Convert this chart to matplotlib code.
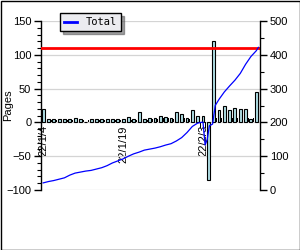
import matplotlib
matplotlib.use("Agg")
import matplotlib.pyplot as plt
from matplotlib.patches import Rectangle
from matplotlib.ticker import MultipleLocator

plt.rcParams["font.family"] = ["Liberation Sans", "DejaVu Sans"]

# ---- data ----
days = list(range(41))
pages_a = [20, 5, 5, 5, 5, 5, 6, 5, 0, 5, 5, 5, 5, 5, 5, 5, 8, 5, 15, 5,
           7, 6, 9, 8, 7, 15, 12, 7, 18, 9, 9, -85, 120, 18, 24, 19, 21, 20, 20, 5, 45]
pages_b = [18, 4, 4, 4, 4, 4, 4, 4, 4, 4, 4, 4, 4, 4, 4, 4, 4, 4, 4, 4,
           5, 5, 6, 6, 5, 8, 6, 5, 8, -9, -9, 0, 6, 6, 6, 6, 6, 6, 6, 6, 0]
total_x = [0, 1, 2, 3, 4, 5, 6, 7, 8, 9, 10, 11, 12, 13, 14, 15, 16, 17, 18, 19,
           20, 21, 22, 23, 24, 25, 26, 27, 28, 29, 30, 30.4, 30.8, 31.2, 31.8,
           32.3, 33, 34, 35, 36, 37, 38, 39, 40, 40.4]
total_y = [21, 25, 28, 32, 36, 44, 50, 53, 56, 58, 62, 66, 72, 80, 86, 92, 100,
           107, 112, 118, 121, 124, 128, 133, 137, 145, 155, 170, 188, 198, 201,
           133, 150, 190, 195, 250, 268, 290, 308, 325, 345, 372, 395, 412, 422]
target = 110
tick_days = [0, 15, 30]
tick_labels = ["22/1/4", "22/1/19", "22/2/3"]

fig = plt.figure(figsize=(3, 2.5), dpi=100)
fig.patch.set_facecolor("white")
ax = fig.add_axes([41/300, 1-190/250, 219/300, 169/250])
ax2 = ax.twinx()

ax.set_ylim(-100, 150)
ax.set_xlim(-0.4, 40.7)
ax2.set_ylim(0, 500)

ax.yaxis.set_major_locator(MultipleLocator(50))
ax.yaxis.set_minor_locator(MultipleLocator(10))
ax2.yaxis.set_major_locator(MultipleLocator(100))
ax2.yaxis.set_minor_locator(MultipleLocator(50))
ax.grid(axis="y", color="#d4d4d4", lw=0.9)
ax.set_axisbelow(True)

for a in (ax, ax2):
    a.spines["top"].set_visible(False)
    a.spines["bottom"].set_visible(False)
    a.patch.set_visible(False)
ax2.spines["left"].set_visible(False)
ax.spines["right"].set_visible(False)
ax.spines["left"].set_linewidth(1)
ax2.spines["right"].set_linewidth(1)

ax.tick_params(axis="y", which="major", length=5, width=1, labelsize=8, pad=2)
ax.tick_params(axis="y", which="minor", length=3, width=0.8)
ax2.tick_params(axis="y", which="major", length=5, width=1, labelsize=8, pad=2)
ax2.tick_params(axis="y", which="minor", length=3, width=0.8)

ax.bar(days, pages_a, width=0.55, color="#b0e0e6", edgecolor="black", lw=0.8, zorder=2)
ax.bar([d + 0.5 for d in days], pages_b, width=0.18, color="black", lw=0, zorder=2)
ax.axhline(target, color="red", lw=2, zorder=3)

ax.spines["bottom"].set_position(("data", 0))
ax.set_xticks(tick_days)
ax.set_xticklabels(tick_labels, rotation=90, fontsize=8)
ax.tick_params(axis="x", length=0, pad=2)
ax.set_ylabel("Pages", fontsize=8)
ax.yaxis.set_label_coords(-0.127, 0.5)

ax2.plot(total_x, total_y, color="blue", lw=0.9, label="Total")

leg = fig.legend(handles=ax2.get_lines(), loc="upper left",
                 bbox_to_anchor=(60/300, 1-13/250), frameon=True, fancybox=False,
                 shadow=True, edgecolor="black", facecolor="#ececf0",
                 prop={"family": "DejaVu Sans Mono", "size": 7.5},
                 handlelength=1.2, borderpad=0.4, handletextpad=0.9, borderaxespad=0)
leg.get_frame().set_linewidth(1)
leg.get_lines()[0].set_linewidth(2)
leg.get_frame().set_alpha(1)

fig.patches.append(Rectangle((0.5/300, 0.5/250), 1-1/300, 1-1/250, transform=fig.transFigure,
                             fill=False, edgecolor="black", lw=1))
fig.savefig("out.png", dpi=100)
